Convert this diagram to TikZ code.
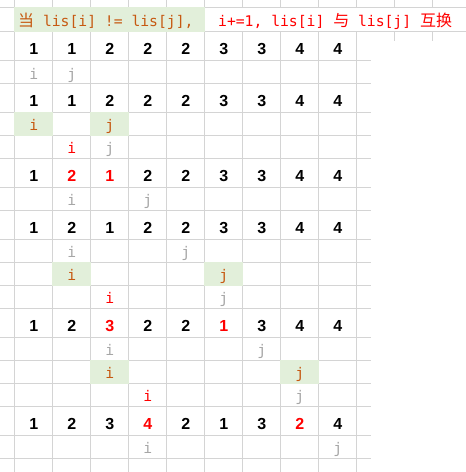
\documentclass[tikz,border=0pt]{standalone}
\usepackage{fontspec}
\setmainfont{Liberation Sans}
\newfontfamily\monofont{DejaVu Sans Mono}
\newfontfamily\cjkfont{Noto Sans CJK SC}
\usetikzlibrary{positioning}
\definecolor{gridgray}{HTML}{D4D4D4}
\definecolor{cellgreen}{HTML}{E2EFDA}
\definecolor{ptrorange}{HTML}{C65911}
\definecolor{ptrgray}{HTML}{A6A6A6}
\newcommand{\cellx}[1]{33.7+38*(#1-1)}
\newcommand{\cellleft}[1]{14.7+38*(#1-1)}

\begin{document}
\begin{tikzpicture}[
        x = 1pt, y = -1pt,
        gridline/.style = {draw = gridgray, line width = 0.9pt},
        hilite/.style = {fill = cellgreen},
        digit/.style = {anchor = base, inner sep = 0pt, font = \fontsize{16}{16}\selectfont\bfseries},
        ptr/.style = {anchor = base, inner sep = 0pt, font = \monofont\fontsize{14.7}{15}\selectfont, text = ptrgray},
        head/.style = {anchor = base west, inner sep = 0pt, font = \monofont\fontsize{14.7}{15}\selectfont}
      ]
      \useasboundingbox (0,0) rectangle (466,472);
      % grid
      \foreach \k in {1,...,10} {
        \draw[gridline] ({\cellleft{\k}},0) -- ({\cellleft{\k}},7.3);
        \draw[gridline] ({\cellleft{\k}},31.7) -- ({\cellleft{\k}},472);
      }
      \foreach \xx in {394.7, 432.7} {
        \draw[gridline] (\xx,0) -- (\xx,7.3);
        \draw[gridline] (\xx,31.7) -- (\xx,41);
      }
      \draw[gridline] (0,7.3) -- (466,7.3);
      \draw[gridline] (0,31.7) -- (466,31.7);
      \foreach \yy in {60.7, 83.7, 112.7, 135.3, 158.3, 187.3, 210.3, 239.3, 262.3,
                      285.3, 308.3, 337.3, 360.3, 383.3, 406.3, 435.3, 458.3}
        \draw[gridline] (0,\yy) -- (371,\yy);
      % green cells
      \fill[hilite] (14.3,7) rectangle (204.7,32);
      \foreach \c/\top in {1/112.7, 3/112.7, 2/262.3, 6/262.3, 3/360.3, 8/360.3}
        \fill[hilite] ({\cellleft{\c}-0.4},\top-0.4) rectangle ({\cellleft{\c}+38.4},\top+23.4);
      % header
      \node[head, text = ptrorange] (cond) at (18,26.5) {{\cjkfont\fontsize{16}{16}\selectfont 当} lis[i] != lis[j],};
      \node[head, text = red] (act) at (218,26.5) {i+=1, lis[i] {\cjkfont\fontsize{16}{16}\selectfont 与} lis[j] {\cjkfont\fontsize{16}{16}\selectfont 互换}};
      % value rows
      \foreach \v [count=\c] in {1,1,2,2,2,3,3,4,4}
        \node[digit] (a\c) at ({\cellx{\c}},54.4) {\v};
      \foreach \v [count=\c] in {1,1,2,2,2,3,3,4,4}
        \node[digit] (b\c) at ({\cellx{\c}},106.4) {\v};
      \foreach \v/\tc [count=\c] in {1/black,2/red,1/red,2/black,2/black,3/black,3/black,4/black,4/black}
        \node[digit, text = \tc] (d\c) at ({\cellx{\c}},181) {\v};
      \foreach \v [count=\c] in {1,2,1,2,2,3,3,4,4}
        \node[digit] (e\c) at ({\cellx{\c}},233) {\v};
      \foreach \v/\tc [count=\c] in {1/black,2/black,3/red,2/black,2/black,1/red,3/black,4/black,4/black}
        \node[digit, text = \tc] (g\c) at ({\cellx{\c}},331) {\v};
      \foreach \v/\tc [count=\c] in {1/black,2/black,3/black,4/red,2/black,1/black,3/black,2/red,4/black}
        \node[digit, text = \tc] (h\c) at ({\cellx{\c}},429) {\v};
      % i and j
      \node[ptr] (i1) at ({\cellx{1}},79.1) {i};
      \node[ptr] (j1) at ({\cellx{2}},79.1) {j};
      \node[ptr, text = ptrorange] (i2) at ({\cellx{1}},130.9) {i};
      \node[ptr, text = ptrorange] (j2) at ({\cellx{3}},130.9) {j};
      \node[ptr, text = red] (i3) at ({\cellx{2}},153.7) {i};
      \node[ptr] (j3) at ({\cellx{3}},153.7) {j};
      \node[ptr] (i4) at ({\cellx{2}},205.7) {i};
      \node[ptr] (j4) at ({\cellx{4}},205.7) {j};
      \node[ptr] (i5) at ({\cellx{2}},257.7) {i};
      \node[ptr] (j5) at ({\cellx{5}},257.7) {j};
      \node[ptr, text = ptrorange] (i6) at ({\cellx{2}},280.7) {i};
      \node[ptr, text = ptrorange] (j6) at ({\cellx{6}},280.7) {j};
      \node[ptr, text = red] (i7) at ({\cellx{3}},303.7) {i};
      \node[ptr] (j7) at ({\cellx{6}},303.7) {j};
      \node[ptr] (i8) at ({\cellx{3}},355.7) {i};
      \node[ptr] (j8) at ({\cellx{7}},355.7) {j};
      \node[ptr, text = ptrorange] (i9) at ({\cellx{3}},378.7) {i};
      \node[ptr, text = ptrorange] (j9) at ({\cellx{8}},378.7) {j};
      \node[ptr, text = red] (i10) at ({\cellx{4}},401.7) {i};
      \node[ptr] (j10) at ({\cellx{8}},401.7) {j};
      \node[ptr] (i11) at ({\cellx{4}},453.7) {i};
      \node[ptr] (j11) at ({\cellx{9}},453.7) {j};
    \end{tikzpicture}
\end{document}
